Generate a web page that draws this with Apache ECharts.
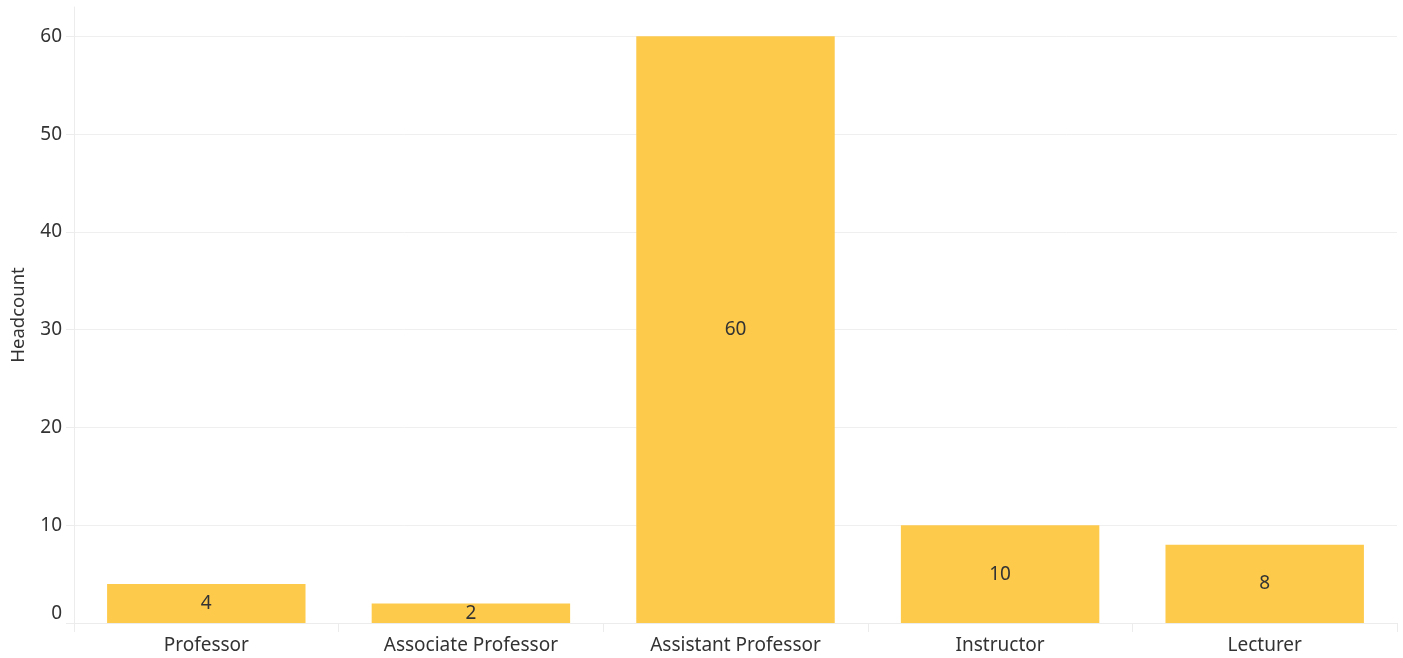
<!DOCTYPE html>
<html>
<head>
<meta charset="utf-8">
<script src="https://cdn.jsdelivr.net/npm/echarts@6/dist/echarts.min.js"></script>
<style>html,body{margin:0;padding:0;background:#fff;}#c{width:1403px;height:658px;}</style>
</head>
<body>
<div id="c"></div>
<script>
const categories = ['Professor', 'Associate Professor', 'Assistant Professor', 'Instructor', 'Lecturer'];
const headcount = [4, 2, 60, 10, 8];
const yTicks = [0, 10, 20, 30, 40, 50, 60];

const FONT = 'Noto Sans';
const chart = echarts.init(document.getElementById('c'), null, {renderer: 'canvas'});
chart.setOption({
  animation: false,
  backgroundColor: '#ffffff',
  grid: {left: 74, right: 6, top: 7, bottom: 35, containLabel: false, outerBoundsMode: 'none'},
  xAxis: {
    type: 'category',
    data: categories,
    axisLine: {show: true, lineStyle: {color: '#ececec', width: 1}},
    axisTick: {show: true, alignWithLabel: false, length: 9, lineStyle: {color: '#ececec'}},
    axisLabel: {color: '#333333', fontFamily: FONT, fontSize: 19, margin: 13},
    splitLine: {show: false}
  },
  yAxis: {
    type: 'value',
    min: 0,
    max: 63,
    interval: 10,
    name: 'Headcount',
    nameLocation: 'middle',
    nameGap: 46,
    nameTextStyle: {color: '#333333', fontFamily: FONT, fontSize: 18.5},
    axisLine: {show: true, lineStyle: {color: '#ececec', width: 1}},
    axisTick: {show: true, length: 8, lineStyle: {color: '#ececec'}},
    axisLabel: {
      color: '#333333', fontFamily: FONT, fontSize: 19, margin: 12,
      showMaxLabel: false,
      formatter: function (v) {
        if (yTicks.indexOf(v) < 0) return '';
        return v === 0 ? '{z|0}' : String(v);
      },
      rich: {z: {color: '#333333', fontFamily: FONT, fontSize: 19, padding: [0, 0, 18, 0]}}
    },
    splitLine: {show: true, showMaxLine: false, lineStyle: {color: '#efefef', width: 1}}
  },
  series: [{
    type: 'bar',
    data: headcount,
    barCategoryGap: '25%',
    itemStyle: {color: '#fdca4c'},
    label: {show: true, position: 'inside', color: '#333333', fontFamily: FONT, fontSize: 19}
  }]
});
</script>
</body>
</html>
